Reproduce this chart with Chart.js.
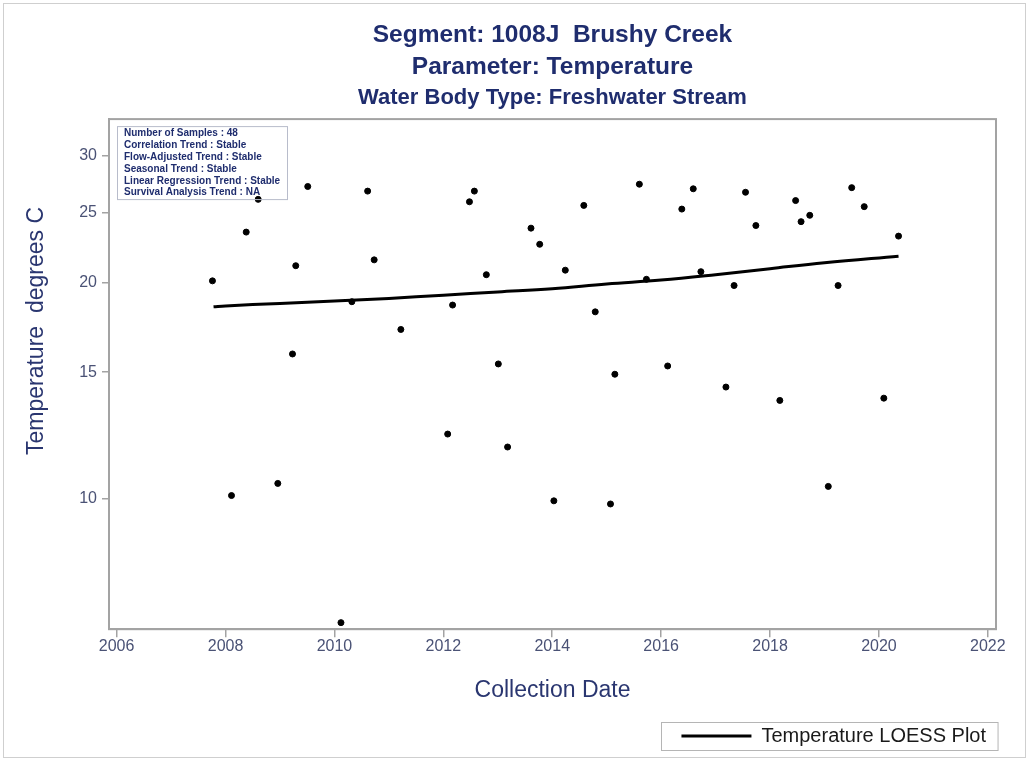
<!DOCTYPE html>
<html>
<head>
<meta charset="utf-8">
<script src="https://cdn.jsdelivr.net/npm/chart.js@4.4.1/dist/chart.umd.min.js"></script>
<style>
  html, body { margin: 0; padding: 0; background: #fff; }
  #wrap { width: 1029px; height: 761px; }
</style>
</head>
<body>
<div id="wrap"><canvas id="loessChart" width="1029" height="761"></canvas></div>
<script>
"use strict";

// sample dates (decimal year) and temperatures
const sampleYears = [2007.76, 2008.11, 2008.38, 2008.60, 2008.96, 2009.23, 2009.29, 2009.51,
  2010.12, 2010.32, 2010.61, 2010.73, 2011.22, 2012.08, 2012.17, 2012.48,
  2012.57, 2012.79, 2013.01, 2013.18, 2013.61, 2013.77, 2014.03, 2014.24,
  2014.58, 2014.79, 2015.07, 2015.15, 2015.60, 2015.73, 2016.12, 2016.38,
  2016.59, 2016.73, 2017.19, 2017.34, 2017.55, 2017.74, 2018.18, 2018.47,
  2018.57, 2018.73, 2019.07, 2019.25, 2019.50, 2019.73, 2020.09, 2020.36];
const sampleTemps = [20.1, 10.1, 23.5, 26.1, 10.5, 15.9, 21.1, 27.2,
  6.72, 18.8, 26.8, 21.5, 17.2, 12.3, 18.6, 25.9,
  26.8, 20.5, 15.4, 11.8, 23.8, 22.6, 9.93, 20.8,
  25.6, 18.2, 9.83, 14.9, 27.4, 20.2, 15.3, 25.3,
  27.0, 20.7, 14.3, 19.8, 26.7, 24.0, 13.7, 26.0,
  24.3, 24.8, 10.4, 19.8, 27.1, 25.5, 13.8, 23.2];

// LOESS curve
const loessYears = [2007.78, 2008, 2009, 2010, 2011, 2012, 2013, 2014, 2015, 2016, 2017, 2018, 2019, 2020.36];
const loessTemps = [18.5, 18.55, 18.7, 18.85, 19.0, 19.2, 19.4, 19.6, 19.9, 20.15, 20.5, 20.9, 21.3, 21.75];

const xTicks = [2006, 2008, 2010, 2012, 2014, 2016, 2018, 2020, 2022];
const yTicks = [10, 15, 20, 25, 30];

const statLines = [
  'Number of Samples : 48',
  'Correlation Trend : Stable',
  'Flow-Adjusted Trend : Stable',
  'Seasonal Trend : Stable',
  'Linear Regression Trend : Stable',
  'Survival Analysis Trend : NA'
];

const NAVY = '#1f2d6e';
const TICK_COLOR = '#4a5275';
const FRAME = '#a3a3a3';
const FONT = 'Arial, "Liberation Sans", sans-serif';

const framePlugin = {
  id: 'frame',
  beforeDraw: (chart) => {
    const ctx = chart.ctx;
    ctx.save();
    ctx.fillStyle = '#fff';
    ctx.fillRect(0, 0, chart.width, chart.height);
    ctx.strokeStyle = '#cfcfcf';
    ctx.lineWidth = 1;
    ctx.strokeRect(3.5, 3.5, chart.width - 7, chart.height - 7);
    ctx.restore();
  },
  afterDraw: (chart) => {
    const { ctx, chartArea: a } = chart;
    ctx.save();
    // plot frame
    ctx.strokeStyle = FRAME;
    ctx.lineWidth = 2;
    ctx.strokeRect(a.left, a.top, a.right - a.left, a.bottom - a.top);

    // stats inset
    ctx.strokeStyle = '#b8bccb';
    ctx.lineWidth = 1;
    ctx.strokeRect(a.left + 8.5, a.top + 7.5, 170, 73);
    ctx.fillStyle = NAVY;
    ctx.font = 'bold 10px ' + FONT;
    ctx.textBaseline = 'middle';
    statLines.forEach((line, i) => {
      ctx.fillText(line, a.left + 15, a.top + 14.5 + i * 11.8);
    });

    // y axis title
    ctx.translate(37, 331);
    ctx.rotate(-Math.PI / 2);
    ctx.textAlign = 'center';
    ctx.fillStyle = '#2a3670';
    ctx.font = '23px ' + FONT;
    ctx.fillText('Temperature  degrees C', 0, 0);
    ctx.restore();

    // box round the legend
    const hb = chart.legend.legendHitBoxes;
    if (hb && hb.length) {
      const b = hb[0];
      ctx.save();
      ctx.strokeStyle = '#b5b5b5';
      ctx.lineWidth = 1;
      ctx.strokeRect(Math.round(b.left - 20) + 0.5, Math.round(b.top - 4) + 0.5, b.width + 32, b.height + 8);
      ctx.restore();
    }
  }
};

const ctxLoess = document.getElementById('loessChart');
new Chart(ctxLoess, {
  type: 'scatter',
  data: {
    datasets: [{
      label: 'Temperature',
      data: sampleYears.map((yr, i) => ({ x: yr, y: sampleTemps[i] })),
      backgroundColor: '#000',
      borderColor: '#000',
      pointRadius: 3,
      pointHoverRadius: 3
    }, {
      label: 'Temperature LOESS Plot',
      data: loessYears.map((yr, i) => ({ x: yr, y: loessTemps[i] })),
      showLine: true,
      borderColor: '#000',
      backgroundColor: '#000',
      borderWidth: 3,
      pointRadius: 0,
      tension: 0.4,
      pointStyle: 'line'
    }]
  },
  options: {
    responsive: false,
    animation: false,
    layout: { padding: { left: 0, right: 33, top: 0, bottom: 5 } },
    plugins: {
      title: {
        display: true,
        fullSize: false,
        text: ['Segment: 1008J  Brushy Creek', 'Parameter: Temperature'],
        color: NAVY,
        font: { family: FONT, size: 24.5, weight: 'bold', lineHeight: 1.306 },
        padding: { top: 19, bottom: 0 }
      },
      subtitle: {
        display: true,
        fullSize: false,
        text: 'Water Body Type: Freshwater Stream',
        color: NAVY,
        font: { family: FONT, size: 22, weight: 'bold', lineHeight: 1.3 },
        padding: { top: 1, bottom: 6.5 }
      },
      legend: {
        position: 'bottom',
        align: 'end',
        labels: {
          filter: (item) => item.datasetIndex === 1,
          usePointStyle: true,
          pointStyleWidth: 70,
          color: '#1a1a1a',
          font: { family: FONT, size: 20 },
          padding: 10
        }
      },
      tooltip: { enabled: false }
    },
    scales: {
      x: {
        type: 'linear',
        min: 2005.86,
        max: 2022.15,
        afterBuildTicks: (scale) => { scale.ticks = xTicks.map(v => ({ value: v })); },
        ticks: { color: TICK_COLOR, font: { family: FONT, size: 16 }, padding: 0, maxRotation: 0, callback: (v) => String(v) },
        grid: { drawOnChartArea: false, drawTicks: true, tickLength: 8, color: FRAME, lineWidth: 1.5 },
        border: { display: true, color: FRAME, width: 2 },
        title: { display: true, text: 'Collection Date', color: '#2a3670', font: { family: FONT, size: 23 }, padding: { top: 20, bottom: 12 } }
      },
      y: {
        type: 'logarithmic',
        min: 6.58,
        max: 33.76,
        afterBuildTicks: (scale) => { scale.ticks = yTicks.map(v => ({ value: v })); },
        afterFit: (scale) => { scale.width = 109; },
        ticks: { color: TICK_COLOR, font: { family: FONT, size: 16 }, padding: 5, callback: (v) => String(v) },
        grid: { drawOnChartArea: false, drawTicks: true, tickLength: 7, color: FRAME, lineWidth: 1.5 },
        border: { display: true, color: FRAME, width: 2 }
      }
    }
  },
  plugins: [framePlugin]
});
</script>
</body>
</html>
